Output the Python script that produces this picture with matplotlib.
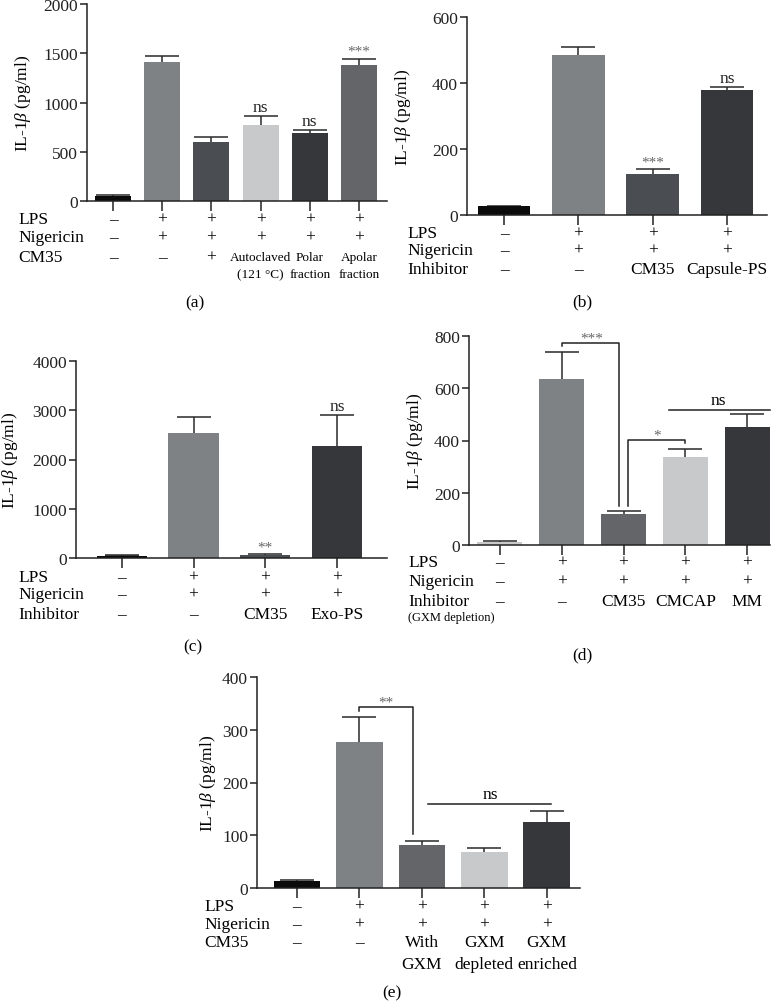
import matplotlib
matplotlib.use("Agg")
import matplotlib.pyplot as plt
from matplotlib.transforms import blended_transform_factory

plt.rcParams['font.family'] = ['Liberation Serif', 'DejaVu Serif']
plt.rcParams['mathtext.fontset'] = 'custom'
plt.rcParams['mathtext.rm'] = 'Liberation Serif'
plt.rcParams['mathtext.it'] = 'Liberation Serif:italic'
plt.rcParams['font.size'] = 12

# ---- data ----
a_vals = [50, 1415, 598, 767, 686, 1382]
a_err = [10, 62, 50, 94, 38, 64]
a_sig = ['', '', '', 'ns', 'ns', '***']
a_lps = ['–', '+', '+', '+', '+', '+']
a_nig = ['–', '+', '+', '+', '+', '+']
a_cm35 = ['–', '–', '+', 'Autoclaved\n(121 °C)', 'Polar\nfraction', 'Apolar\nfraction']

b_vals = [26, 486, 125, 379]
b_err = [1, 24, 13, 8]
b_sig = ['', '', '***', 'ns']
b_lps = ['–', '+', '+', '+']
b_nig = ['–', '+', '+', '+']
b_inh = ['–', '–', 'CM35', 'Capsule-PS']

c_vals = [47, 2534, 54, 2284]
c_err = [10, 331, 20, 628]
c_sig = ['', '', '**', 'ns']
c_lps = ['–', '+', '+', '+']
c_nig = ['–', '+', '+', '+']
c_inh = ['–', '–', 'CM35', 'Exo-PS']

d_vals = [11, 636, 120, 336, 451]
d_err = [4, 103, 9, 32, 50]
d_lps = ['–', '+', '+', '+', '+']
d_nig = ['–', '+', '+', '+', '+']
d_inh = ['–', '–', 'CM35', 'CMCAP', 'MM']

e_vals = [13, 276, 82, 69, 126]
e_err = [1.5, 49, 7, 6, 20]
e_lps = ['–', '+', '+', '+', '+']
e_nig = ['–', '+', '+', '+', '+']
e_cm35 = ['–', '–', 'With\nGXM', 'GXM\ndepleted', 'GXM\nenriched']

BLACK = '#0b0b0c'
GRAY = '#7f8285'
DARK = '#4a4d51'
LIGHT = '#c8c9cb'
DARKER = '#36373b'
MID = '#636569'

a_colors = [BLACK, GRAY, DARK, LIGHT, DARKER, MID]
b_colors = [BLACK, GRAY, DARK, DARKER]
c_colors = [BLACK, GRAY, DARK, DARKER]
d_colors = [LIGHT, GRAY, MID, LIGHT, DARKER]
e_colors = [BLACK, GRAY, MID, LIGHT, DARKER]

W, H = 780, 1004
FS = 12.5
fig = plt.figure(figsize=(W / 100, H / 100), dpi=100)


def make_ax(left, right, top, bottom):
    ax = fig.add_axes([left / W, 1 - bottom / H, (right - left) / W, (bottom - top) / H])
    ax._px = (left, right)
    return ax


def fy(y):
    return 1 - y / H


def bar_panel(ax, vals, err, colors, ylim, yticks, xlim, width, ylab_px):
    x = list(range(len(vals)))
    ax.bar(x, vals, width=width, color=colors, zorder=2)
    # symmetric bars drawn behind the bars, so only the upper half shows
    ax.errorbar(x, vals, yerr=err, fmt='none', ecolor='#2a2a2a',
                elinewidth=1.1, capsize=12, capthick=1.1, zorder=1)
    ax.set_ylim(*ylim)
    ax.set_xlim(*xlim)
    ax.set_yticks(yticks)
    ax.set_xticks(x)
    ax.set_xticklabels([])
    for s in ['top', 'right']:
        ax.spines[s].set_visible(False)
    for s in ['left', 'bottom']:
        ax.spines[s].set_linewidth(1.1)
        ax.spines[s].set_color('#222222')
        ax.spines[s].set_zorder(3)
    ax.tick_params(axis='y', length=5, width=1.1, colors='#222222', labelsize=FS, pad=1.5)
    ax.tick_params(axis='x', length=7, width=1.1, colors='#222222')
    ax.set_ylabel(r'IL-1$\beta$ (pg/ml)', fontsize=FS)
    left, right = ax._px
    ax.yaxis.set_label_coords((ylab_px - left) / (right - left), 0.5)


def rows(ax, names, name_x, ys, cols, small=None, line_gap=17):
    tr = blended_transform_factory(ax.transData, fig.transFigure)
    for name, y, col in zip(names, ys, cols):
        fig.text(name_x / W, fy(y), name, ha='left', va='center', fontsize=FS)
        for i, t in enumerate(col):
            lines = t.split('\n')
            fs = small if (small and len(lines) > 1) else FS
            for k, ln in enumerate(lines):
                ax.text(i, fy(y + k * line_gap), ln, transform=tr, ha='center', va='center',
                        fontsize=fs)


def sig_marks(ax, vals, err, sig, pad):
    for i, s in enumerate(sig):
        if s:
            ax.text(i, vals[i] + err[i] + pad, s, ha='center', va='bottom',
                    fontsize=FS if s == 'ns' else 11, color='#222222' if s == 'ns' else '#666666')


# ---- (a) ----
ax = make_ax(87, 387, 5, 202)
bar_panel(ax, a_vals, a_err, a_colors, (0, 2000), [0, 500, 1000, 1500, 2000], (-0.53, 5.57), 0.73, 33)
sig_marks(ax, a_vals, a_err, a_sig, 10)
rows(ax, ['LPS', 'Nigericin', 'CM35'], 18, [220, 238, 258], [a_lps, a_nig, a_cm35], small=9.5)
fig.text(195 / W, fy(303), '(a)', ha='center', va='center', fontsize=FS)

# ---- (b) ----
ax = make_ax(467, 767, 18, 216)
bar_panel(ax, b_vals, b_err, b_colors, (0, 600), [0, 200, 400, 600], (-0.5, 3.54), 0.71, 413)
sig_marks(ax, b_vals, b_err, b_sig, 3)
rows(ax, ['LPS', 'Nigericin', 'Inhibitor'], 407, [234, 251, 270], [b_lps, b_nig, b_inh])
fig.text(582 / W, fy(302), '(b)', ha='center', va='center', fontsize=FS)

# ---- (c) ----
ax = make_ax(76, 387, 362, 559)
bar_panel(ax, c_vals, c_err, c_colors, (0, 4000), [0, 1000, 2000, 3000, 4000], (-0.64, 3.7), 0.7, 20)
sig_marks(ax, c_vals, c_err, c_sig, 20)
rows(ax, ['LPS', 'Nigericin', 'Inhibitor'], 18, [578, 595, 615], [c_lps, c_nig, c_inh])
fig.text(193 / W, fy(647), '(c)', ha='center', va='center', fontsize=FS)

# ---- (d) ----
d_bracket1 = ([1, 1, 1.93, 1.93], [760, 775, 775, 149])
d_bracket2 = ([2.08, 2.08, 3, 3], [149, 402, 402, 391])
d_ns_line = ([2.73, 4.37], [518, 518])
ax = make_ax(469, 770, 337, 546)
bar_panel(ax, d_vals, d_err, d_colors, (0, 800), [0, 200, 400, 600, 800], (-0.5, 4.37), 0.73, 425)
for bx, by in [d_bracket1, d_bracket2, d_ns_line]:
    ax.plot(bx, by, color='#222222', lw=1.1, clip_on=False)
ax.text(1.48, 768, '***', ha='center', va='bottom', fontsize=11, color='#666666')
ax.text(2.54, 395, '*', ha='center', va='bottom', fontsize=11, color='#666666')
ax.text(3.53, 524, 'ns', ha='center', va='bottom', fontsize=FS)
rows(ax, ['LPS', 'Nigericin', 'Inhibitor'], 408, [563, 582, 602], [d_lps, d_nig, d_inh])
fig.text(408 / W, fy(618), '(GXM depletion)', ha='left', va='center', fontsize=9)
fig.text(582 / W, fy(655), '(d)', ha='center', va='center', fontsize=FS)

# ---- (e) ----
e_bracket = ([1, 1, 1.86, 1.86], [336, 344, 344, 103])
e_ns_line = ([2.09, 4.07], [160, 160])
ax = make_ax(257, 580, 678, 889)
bar_panel(ax, e_vals, e_err, e_colors, (0, 400), [0, 100, 200, 300, 400], (-0.64, 4.53), 0.75, 218)
for bx, by in [e_bracket, e_ns_line]:
    ax.plot(bx, by, color='#222222', lw=1.1, clip_on=False)
ax.text(1.42, 340, '**', ha='center', va='bottom', fontsize=11, color='#666666')
ax.text(3.09, 163, 'ns', ha='center', va='bottom', fontsize=FS)
rows(ax, ['LPS', 'Nigericin', 'CM35'], 204, [907, 925, 943], [e_lps, e_nig, e_cm35], line_gap=22)
fig.text(392 / W, fy(993), '(e)', ha='center', va='center', fontsize=FS)

fig.savefig('out.png', dpi=100)
